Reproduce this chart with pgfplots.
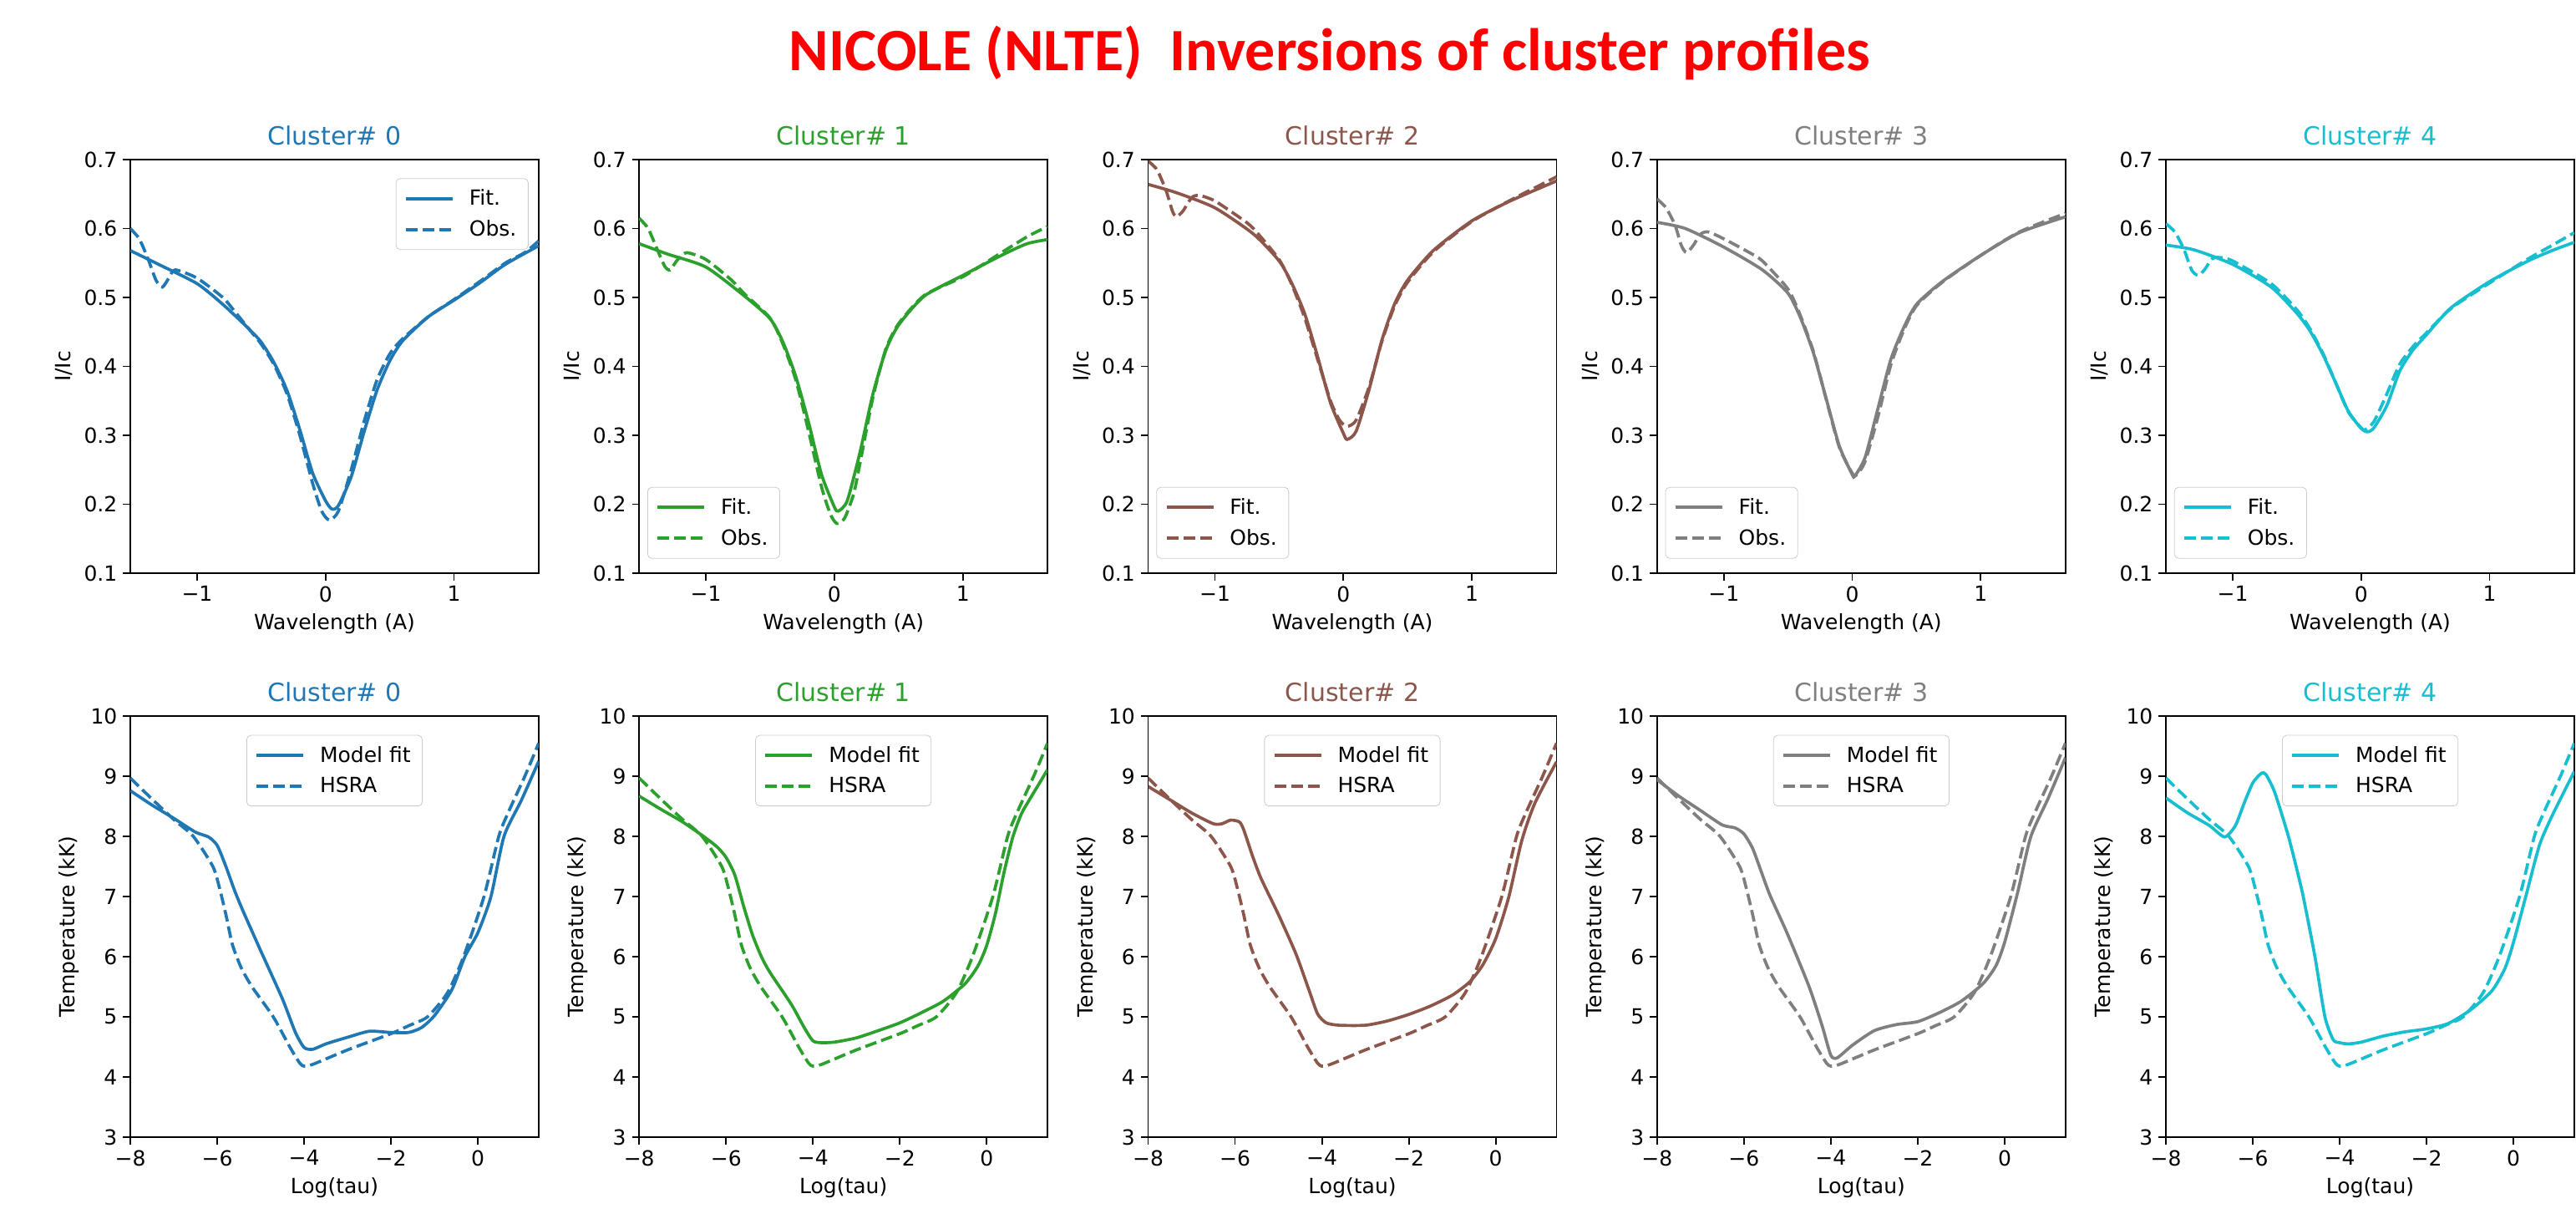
\documentclass[border=0pt]{standalone}
\usepackage{pgfplots}
\pgfplotsset{compat=1.18}
\usepackage{fontspec}
\setmainfont{DejaVu Sans}
\newfontfamily\titlefont{Carlito}
\definecolor{tblue}{HTML}{1F77B4}
\definecolor{tgreen}{HTML}{2CA02C}
\definecolor{tbrown}{HTML}{8C564B}
\definecolor{tgray}{HTML}{7F7F7F}
\definecolor{tcyan}{HTML}{17BECF}
\pgfplotsset{
  base/.style={
    scale only axis, width=244.5pt, anchor=south west,
    axis line style={line width=0.92pt},
    tick style={black, line width=0.92pt},
    major tick length=4.3pt, tick align=outside, tickpos=left,
    tick label style={font=\fontsize{12.5}{14}\selectfont},
    label style={font=\fontsize{12.5}{14}\selectfont},
    title style={font=\fontsize{15}{17}\selectfont, yshift=-1pt},
    legend style={font=\fontsize{12.5}{14}\selectfont, draw=black!20, rounded corners=2.5pt,
      fill=white, inner xsep=5pt, inner ysep=4.5pt, row sep=3.5pt, column sep=7pt,
      cells={anchor=west}},
    legend image code/.code={\draw[#1] (0pt,0pt) -- (28pt,0pt);},
    every axis plot/.append style={line width=1.84pt},
  },
  fit/.style={solid},
  obs/.style={dash pattern=on 7pt off 3pt},
  toprow/.style={base, height=247.5pt,
    xmin=-1.52, xmax=1.66, ymin=0.1, ymax=0.7,
    xtick={-1,0,1}, xticklabels={−1,0,1},
    ytick={0.1,0.2,0.3,0.4,0.5,0.6,0.7},
    yticklabels={0.1,0.2,0.3,0.4,0.5,0.6,0.7},
    xlabel={Wavelength (A)}, ylabel={I/Ic},
    legend style={at={(0.02,0.035)}, anchor=south west}},
  botrow/.style={base, height=252pt,
    xmin=-8, xmax=1.4, ymin=3, ymax=10,
    xtick={-8,-6,-4,-2,0}, xticklabels={−8,−6,−4,−2,0},
    ytick={3,4,5,6,7,8,9,10}, yticklabels={3,4,5,6,7,8,9,10},
    xlabel={Log(tau)}, ylabel={Temperature (kK)},
    legend style={at={(0.5,0.955)}, anchor=north}},
}
\pgfplotstableread{
x y
-8 8.97
-7.5 8.62
-7 8.28
-6.55 8.0
-6.1 7.5
-5.95 7.15
-5.8 6.7
-5.65 6.2
-5.45 5.82
-5.2 5.5
-4.71 5.0
-4.33 4.5
-4.1 4.23
-4.0 4.18
-3.8 4.21
-3.0 4.45
-2.0 4.72
-1.6 4.85
-1.16 5.0
-0.7 5.4
-0.33 6.0
0.14 7.0
0.48 8.0
0.7 8.4
1.08 9.0
1.4 9.55
}\hsra
\begin{document}
\begin{tikzpicture}
\path[use as bounding box] (0,0) rectangle (1542pt,726pt);
\node[anchor=base, text=red, font=\titlefont\bfseries\fontsize{36}{40}\selectfont] at (796pt,683.5pt) {NICOLE (NLTE)\ \ Inversions of cluster profiles};

% ---------------- top row ----------------
\begin{axis}[toprow, at={(78pt,383pt)}, title={\textcolor{tblue}{Cluster\# 0}},
  legend style={at={(0.975,0.955)}, anchor=north east}]
\addplot[tblue, fit, smooth, tension=0.4] coordinates {(-1.52,0.568)(-1.3,0.548)(-1.0,0.520)(-0.8,0.490)(-0.6,0.455)(-0.5,0.435)(-0.4,0.405)(-0.3,0.365)(-0.2,0.308)(-0.1,0.245)(0,0.205)(0.05,0.193)(0.1,0.198)(0.2,0.240)(0.3,0.305)(0.4,0.365)(0.5,0.408)(0.6,0.437)(0.8,0.472)(1.0,0.496)(1.2,0.521)(1.4,0.548)(1.66,0.575)};
\addlegendentry{Fit.}
\addplot[tblue, obs, smooth, tension=0.4] coordinates {(-1.52,0.600)(-1.45,0.585)(-1.38,0.555)(-1.32,0.525)(-1.27,0.515)(-1.22,0.528)(-1.17,0.540)(-1.0,0.528)(-0.8,0.500)(-0.7,0.478)(-0.6,0.455)(-0.5,0.432)(-0.4,0.402)(-0.3,0.360)(-0.2,0.300)(-0.1,0.230)(-0.03,0.190)(0.03,0.177)(0.1,0.190)(0.2,0.250)(0.3,0.320)(0.4,0.380)(0.5,0.418)(0.6,0.440)(0.8,0.472)(1.0,0.497)(1.2,0.523)(1.4,0.550)(1.55,0.565)(1.66,0.582)};
\addlegendentry{Obs.}
\end{axis}

\begin{axis}[toprow, at={(382.6pt,383pt)}, title={\textcolor{tgreen}{Cluster\# 1}}]
\addplot[tgreen, fit, smooth, tension=0.4] coordinates {(-1.52,0.578)(-1.3,0.563)(-1.0,0.544)(-0.7,0.502)(-0.5,0.469)(-0.4,0.435)(-0.3,0.385)(-0.2,0.318)(-0.1,0.243)(0,0.196)(0.03,0.190)(0.1,0.205)(0.2,0.276)(0.3,0.360)(0.4,0.423)(0.5,0.460)(0.7,0.502)(1.0,0.532)(1.3,0.561)(1.5,0.578)(1.66,0.584)};
\addlegendentry{Fit.}
\addplot[tgreen, obs, smooth, tension=0.4] coordinates {(-1.52,0.615)(-1.45,0.600)(-1.38,0.570)(-1.32,0.545)(-1.28,0.540)(-1.22,0.555)(-1.15,0.565)(-1.0,0.555)(-0.8,0.525)(-0.7,0.505)(-0.5,0.470)(-0.4,0.432)(-0.3,0.380)(-0.2,0.305)(-0.1,0.225)(-0.03,0.185)(0.02,0.172)(0.08,0.180)(0.15,0.215)(0.2,0.260)(0.3,0.355)(0.4,0.425)(0.5,0.462)(0.7,0.503)(1.0,0.530)(1.3,0.565)(1.5,0.588)(1.66,0.603)};
\addlegendentry{Obs.}
\end{axis}

\begin{axis}[toprow, at={(687.25pt,383pt)}, title={\textcolor{tbrown}{Cluster\# 2}}]
\addplot[tbrown, fit, smooth, tension=0.4] coordinates {(-1.52,0.664)(-1.3,0.652)(-1.0,0.630)(-0.7,0.592)(-0.5,0.553)(-0.4,0.520)(-0.3,0.476)(-0.2,0.414)(-0.1,0.347)(0,0.303)(0.03,0.294)(0.1,0.306)(0.2,0.366)(0.3,0.438)(0.4,0.491)(0.5,0.525)(0.7,0.568)(1.0,0.611)(1.3,0.640)(1.66,0.669)};
\addlegendentry{Fit.}
\addplot[tbrown, obs, smooth, tension=0.4] coordinates {(-1.52,0.698)(-1.45,0.685)(-1.38,0.655)(-1.33,0.625)(-1.30,0.617)(-1.25,0.625)(-1.18,0.645)(-1.12,0.648)(-1.0,0.640)(-0.8,0.615)(-0.7,0.600)(-0.5,0.555)(-0.4,0.518)(-0.3,0.470)(-0.2,0.410)(-0.1,0.350)(-0.03,0.322)(0.03,0.313)(0.1,0.322)(0.2,0.370)(0.3,0.436)(0.4,0.488)(0.5,0.522)(0.7,0.566)(1.0,0.610)(1.3,0.641)(1.66,0.675)};
\addlegendentry{Obs.}
\end{axis}

\begin{axis}[toprow, at={(991.9pt,383pt)}, title={\textcolor{tgray}{Cluster\# 3}}]
\addplot[tgray, fit, smooth, tension=0.4] coordinates {(-1.52,0.609)(-1.3,0.600)(-1.0,0.573)(-0.7,0.540)(-0.5,0.506)(-0.4,0.469)(-0.3,0.418)(-0.2,0.351)(-0.1,0.284)(0,0.243)(0.02,0.241)(0.1,0.268)(0.2,0.339)(0.3,0.410)(0.4,0.456)(0.5,0.490)(0.7,0.523)(1.0,0.561)(1.3,0.594)(1.66,0.617)};
\addlegendentry{Fit.}
\addplot[tgray, obs, smooth, tension=0.4] coordinates {(-1.52,0.643)(-1.45,0.630)(-1.38,0.605)(-1.33,0.575)(-1.29,0.565)(-1.24,0.575)(-1.18,0.592)(-1.12,0.595)(-1.0,0.585)(-0.8,0.565)(-0.7,0.553)(-0.5,0.512)(-0.4,0.472)(-0.3,0.420)(-0.2,0.350)(-0.1,0.282)(0,0.245)(0.03,0.242)(0.1,0.262)(0.2,0.327)(0.3,0.402)(0.4,0.452)(0.5,0.488)(0.7,0.522)(1.0,0.561)(1.3,0.595)(1.66,0.622)};
\addlegendentry{Obs.}
\end{axis}

\begin{axis}[toprow, at={(1296.5pt,383pt)}, title={\textcolor{tcyan}{Cluster\# 4}}]
\addplot[tcyan, fit, smooth, tension=0.4] coordinates {(-1.52,0.576)(-1.3,0.569)(-1.0,0.548)(-0.7,0.515)(-0.5,0.477)(-0.4,0.452)(-0.3,0.418)(-0.2,0.377)(-0.1,0.335)(0,0.310)(0.05,0.305)(0.1,0.311)(0.2,0.343)(0.3,0.393)(0.4,0.423)(0.5,0.444)(0.7,0.485)(1.0,0.523)(1.3,0.553)(1.5,0.569)(1.66,0.580)};
\addlegendentry{Fit.}
\addplot[tcyan, obs, smooth, tension=0.4] coordinates {(-1.52,0.607)(-1.45,0.595)(-1.38,0.570)(-1.32,0.540)(-1.27,0.532)(-1.22,0.540)(-1.16,0.556)(-1.1,0.558)(-1.0,0.553)(-0.7,0.520)(-0.5,0.482)(-0.4,0.455)(-0.3,0.420)(-0.2,0.377)(-0.1,0.334)(0,0.311)(0.03,0.308)(0.1,0.320)(0.2,0.360)(0.3,0.403)(0.4,0.428)(0.5,0.447)(0.7,0.484)(1.0,0.521)(1.3,0.556)(1.5,0.577)(1.66,0.594)};
\addlegendentry{Obs.}
\end{axis}

% ---------------- bottom row ----------------
\begin{axis}[botrow, at={(78pt,45.5pt)}, title={\textcolor{tblue}{Cluster\# 0}}]
\addplot[tblue, fit, smooth, tension=0.4] coordinates {(-8,8.76)(-7.5,8.52)(-7,8.30)(-6.5,8.07)(-6.2,7.99)(-6.0,7.85)(-5.8,7.50)(-5.6,7.10)(-5.4,6.75)(-5.0,6.10)(-4.5,5.30)(-4.2,4.74)(-4.0,4.49)(-3.8,4.46)(-3.5,4.55)(-3.0,4.66)(-2.5,4.76)(-2.0,4.74)(-1.6,4.74)(-1.3,4.82)(-1.0,5.02)(-0.6,5.45)(-0.3,6.0)(0,6.40)(0.3,7.0)(0.6,8.0)(1.0,8.60)(1.4,9.25)};
\addlegendentry{Model fit}
\addplot[tblue, obs, smooth, tension=0.4] table {\hsra};
\addlegendentry{HSRA}
\end{axis}

\begin{axis}[botrow, at={(382.6pt,45.5pt)}, title={\textcolor{tgreen}{Cluster\# 1}}]
\addplot[tgreen, fit, smooth, tension=0.4] coordinates {(-8,8.67)(-7.5,8.45)(-7,8.24)(-6.5,7.99)(-6.2,7.82)(-6.0,7.65)(-5.8,7.36)(-5.6,6.85)(-5.4,6.38)(-5.2,6.02)(-5.0,5.75)(-4.5,5.21)(-4.2,4.82)(-4.0,4.60)(-3.8,4.57)(-3.5,4.58)(-3.0,4.65)(-2.5,4.77)(-2.0,4.90)(-1.5,5.07)(-1.0,5.26)(-0.5,5.55)(-0.2,5.85)(0,6.19)(0.2,6.72)(0.4,7.41)(0.6,7.99)(0.8,8.38)(1.0,8.63)(1.4,9.11)};
\addlegendentry{Model fit}
\addplot[tgreen, obs, smooth, tension=0.4] table {\hsra};
\addlegendentry{HSRA}
\end{axis}

\begin{axis}[botrow, at={(687.25pt,45.5pt)}, title={\textcolor{tbrown}{Cluster\# 2}}]
\addplot[tbrown, fit, smooth, tension=0.4] coordinates {(-8,8.83)(-7.5,8.61)(-7,8.39)(-6.5,8.21)(-6.3,8.21)(-6.1,8.27)(-5.9,8.24)(-5.8,8.11)(-5.6,7.68)(-5.4,7.30)(-5.0,6.70)(-4.6,6.05)(-4.3,5.45)(-4.1,5.05)(-3.9,4.90)(-3.6,4.86)(-3.0,4.86)(-2.5,4.93)(-2.0,5.04)(-1.5,5.18)(-1.0,5.36)(-0.6,5.58)(-0.3,5.86)(0,6.30)(0.3,6.99)(0.6,7.93)(0.9,8.55)(1.4,9.24)};
\addlegendentry{Model fit}
\addplot[tbrown, obs, smooth, tension=0.4] table {\hsra};
\addlegendentry{HSRA}
\end{axis}

\begin{axis}[botrow, at={(991.9pt,45.5pt)}, title={\textcolor{tgray}{Cluster\# 3}}]
\addplot[tgray, fit, smooth, tension=0.4] coordinates {(-8,8.94)(-7.5,8.67)(-7.0,8.43)(-6.5,8.19)(-6.2,8.14)(-6.0,8.04)(-5.8,7.80)(-5.6,7.41)(-5.4,7.02)(-5.0,6.38)(-4.5,5.50)(-4.2,4.85)(-4.0,4.36)(-3.85,4.32)(-3.5,4.53)(-3.0,4.77)(-2.5,4.87)(-2.0,4.92)(-1.5,5.07)(-1.0,5.26)(-0.5,5.55)(-0.2,5.85)(0,6.24)(0.3,7.07)(0.6,7.99)(1.0,8.63)(1.4,9.31)};
\addlegendentry{Model fit}
\addplot[tgray, obs, smooth, tension=0.4] table {\hsra};
\addlegendentry{HSRA}
\end{axis}

\begin{axis}[botrow, at={(1296.5pt,45.5pt)}, title={\textcolor{tcyan}{Cluster\# 4}}]
\addplot[tcyan, fit, smooth, tension=0.4] coordinates {(-8,8.64)(-7.5,8.39)(-7.0,8.18)(-6.65,7.99)(-6.4,8.18)(-6.2,8.55)(-6.0,8.89)(-5.8,9.05)(-5.7,9.03)(-5.5,8.74)(-5.2,8.05)(-5.0,7.49)(-4.84,7.0)(-4.57,6.0)(-4.34,5.0)(-4.15,4.62)(-4.0,4.57)(-3.8,4.55)(-3.5,4.58)(-3.0,4.68)(-2.5,4.75)(-2.0,4.80)(-1.5,4.89)(-1.0,5.11)(-0.5,5.43)(-0.2,5.80)(0,6.24)(0.3,7.05)(0.6,7.86)(0.9,8.36)(1.4,9.08)};
\addlegendentry{Model fit}
\addplot[tcyan, obs, smooth, tension=0.4] table {\hsra};
\addlegendentry{HSRA}
\end{axis}
\end{tikzpicture}
\end{document}
